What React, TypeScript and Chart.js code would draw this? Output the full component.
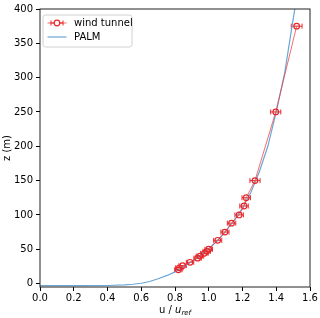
import React, { useEffect, useRef } from "react";
import { Chart, registerables } from "chart.js";

Chart.register(...registerables);

// Wind tunnel measurements
const windU = [0.82, 0.826, 0.845, 0.889, 0.934, 0.948, 0.974, 0.988, 1.0, 1.053, 1.096, 1.135, 1.18, 1.209, 1.222, 1.274, 1.397, 1.521];
const windZ = [20, 23, 26, 31, 37, 40, 44, 47, 50, 63, 75, 88, 100, 113, 125, 150, 250, 375];
const windErr = [0.022, 0.022, 0.022, 0.022, 0.022, 0.022, 0.022, 0.022, 0.022, 0.024, 0.024, 0.025, 0.025, 0.025, 0.025, 0.03, 0.03, 0.032];

// PALM profile
const palmU = [0.0, 0.2, 0.4, 0.5, 0.55, 0.6, 0.65, 0.7, 0.75, 0.8, 0.85, 0.9, 0.95, 1.0, 1.05, 1.1, 1.15, 1.2, 1.25, 1.3, 1.35, 1.4, 1.45, 1.5, 1.53];
const palmZ = [-3, -3, -2.8, -1.8, -1, 0.5, 3, 7, 11.5, 17, 24, 32, 41, 51, 62, 76, 92, 110, 133, 163, 200, 250, 307, 385, 430];

const xTicks = [0.0, 0.2, 0.4, 0.6, 0.8, 1.0, 1.2, 1.4, 1.6];
const yTicks = [0, 50, 100, 150, 200, 250, 300, 350, 400];

const seriesLabels = ["wind tunnel", "PALM"];
const xTitleMain = "u / ";
const xTitleVar = "u";
const xTitleSub = "ref";
const yTitle = "z (m)";

const RED = "#e8262a";
const RED_LINE = "rgba(240,60,60,0.75)";
const BLUE = "#6aa6d6";
const FONT = "DejaVu Sans";

export default function App() {
  const ref = useRef<HTMLCanvasElement | null>(null);

  useEffect(() => {
    document.body.style.margin = "0";
    const canvas = ref.current;
    if (!canvas) return;

    const errorBars = {
      id: "errorBars",
      beforeDatasetsDraw(chart: any) {
        const { ctx } = chart;
        const xs = chart.scales.x;
        const ys = chart.scales.y;
        ctx.save();
        ctx.strokeStyle = RED;
        ctx.lineWidth = 1;
        for (let i = 0; i < windU.length; i++) {
          const x1 = xs.getPixelForValue(windU[i] - windErr[i]);
          const x2 = xs.getPixelForValue(windU[i] + windErr[i]);
          const y = ys.getPixelForValue(windZ[i]);
          ctx.beginPath();
          ctx.moveTo(x1, y);
          ctx.lineTo(x2, y);
          ctx.moveTo(x1, y - 2.5);
          ctx.lineTo(x1, y + 2.5);
          ctx.moveTo(x2, y - 2.5);
          ctx.lineTo(x2, y + 2.5);
          ctx.stroke();
        }
        ctx.restore();
      },
    };

    const decorations = {
      id: "decorations",
      afterDraw(chart: any) {
        const { ctx, chartArea } = chart;
        const { left, right, top, bottom } = chartArea;
        ctx.save();
        // frame
        ctx.strokeStyle = "#222";
        ctx.lineWidth = 1;
        ctx.strokeRect(left, top, right - left, bottom - top);

        // y title
        ctx.fillStyle = "#000";
        ctx.font = `10px ${FONT}`;
        ctx.textAlign = "center";
        ctx.textBaseline = "middle";
        ctx.save();
        ctx.translate(7.5, (top + bottom) / 2);
        ctx.rotate(-Math.PI / 2);
        ctx.fillText(yTitle, 0, 0);
        ctx.restore();

        // x title with subscript
        const mainFont = `10px ${FONT}`;
        const varFont = `italic 10px ${FONT}`;
        const subFont = `italic 7px ${FONT}`;
        ctx.textAlign = "left";
        ctx.textBaseline = "alphabetic";
        ctx.font = mainFont;
        const w1 = ctx.measureText(xTitleMain).width;
        ctx.font = varFont;
        const w2 = ctx.measureText(xTitleVar).width;
        ctx.font = subFont;
        const w3 = ctx.measureText(xTitleSub).width;
        const total = w1 + w2 + w3;
        let x0 = (left + right) / 2 - total / 2;
        const base = 312.5;
        ctx.font = mainFont;
        ctx.fillText(xTitleMain, x0, base);
        x0 += w1;
        ctx.font = varFont;
        ctx.fillText(xTitleVar, x0, base);
        x0 += w2;
        ctx.font = subFont;
        ctx.fillText(xTitleSub, x0, base + 2.5);

        // legend
        const lx = left + 3, ly = top + 6, lw = 89, lh = 32, r = 2.5;
        ctx.beginPath();
        ctx.moveTo(lx + r, ly);
        ctx.lineTo(lx + lw - r, ly);
        ctx.quadraticCurveTo(lx + lw, ly, lx + lw, ly + r);
        ctx.lineTo(lx + lw, ly + lh - r);
        ctx.quadraticCurveTo(lx + lw, ly + lh, lx + lw - r, ly + lh);
        ctx.lineTo(lx + r, ly + lh);
        ctx.quadraticCurveTo(lx, ly + lh, lx, ly + lh - r);
        ctx.lineTo(lx, ly + r);
        ctx.quadraticCurveTo(lx, ly, lx + r, ly);
        ctx.closePath();
        ctx.fillStyle = "rgba(255,255,255,0.8)";
        ctx.fill();
        ctx.strokeStyle = "#d0d0d0";
        ctx.lineWidth = 1;
        ctx.stroke();

        const sx1 = lx + 4.5, sx2 = lx + 23.5, sc = (sx1 + sx2) / 2;
        const e1y = ly + 8, e2y = ly + 22;
        // wind tunnel entry
        ctx.strokeStyle = RED_LINE;
        ctx.beginPath();
        ctx.moveTo(sx1, e1y);
        ctx.lineTo(sx2, e1y);
        ctx.stroke();
        ctx.strokeStyle = RED;
        ctx.beginPath();
        ctx.moveTo(sc - 6, e1y);
        ctx.lineTo(sc + 6, e1y);
        ctx.moveTo(sc - 6, e1y - 2.5);
        ctx.lineTo(sc - 6, e1y + 2.5);
        ctx.moveTo(sc + 6, e1y - 2.5);
        ctx.lineTo(sc + 6, e1y + 2.5);
        ctx.stroke();
        ctx.beginPath();
        ctx.arc(sc, e1y, 2.8, 0, Math.PI * 2);
        ctx.fillStyle = "#fff";
        ctx.fill();
        ctx.lineWidth = 1.2;
        ctx.stroke();
        // PALM entry
        ctx.strokeStyle = BLUE;
        ctx.lineWidth = 1.2;
        ctx.beginPath();
        ctx.moveTo(sx1, e2y);
        ctx.lineTo(sx2, e2y);
        ctx.stroke();

        ctx.fillStyle = "#000";
        ctx.font = `10px ${FONT}`;
        ctx.textBaseline = "middle";
        ctx.textAlign = "left";
        ctx.fillText(seriesLabels[0], lx + 31, e1y);
        ctx.fillText(seriesLabels[1], lx + 31, e2y);
        ctx.restore();
      },
    };

    const tickFont = { family: FONT, size: 10 };

    const chart = new Chart(canvas, {
      type: "scatter",
      data: {
        datasets: [
          {
            label: seriesLabels[0],
            data: windU.map((u, i) => ({ x: u, y: windZ[i] })),
            showLine: true,
            borderColor: RED_LINE,
            borderWidth: 1,
            pointRadius: 2.8,
            pointBorderColor: RED,
            pointBorderWidth: 1.2,
            pointBackgroundColor: "rgba(255,255,255,0)",
            pointStyle: "circle",
          },
          {
            label: seriesLabels[1],
            data: palmU.map((u, i) => ({ x: u, y: palmZ[i] })),
            showLine: true,
            borderColor: BLUE,
            borderWidth: 1.2,
            pointRadius: 0,
          },
        ],
      },
      options: {
        animation: false,
        responsive: true,
        maintainAspectRatio: false,
        layout: { padding: { top: 5, right: 10, left: 0, bottom: 0 } },
        plugins: { legend: { display: false }, tooltip: { enabled: false } },
        scales: {
          x: {
            type: "linear",
            min: 0,
            max: 1.6,
            afterBuildTicks: (axis: any) => {
              axis.ticks = xTicks.map((v) => ({ value: v }));
            },
            afterFit: (s: any) => {
              s.height = 31;
            },
            ticks: {
              callback: (v: any) => Number(v).toFixed(1),
              font: tickFont,
              color: "#000",
              padding: 1,
              maxRotation: 0,
              autoSkip: false,
            },
            grid: { drawOnChartArea: false, drawTicks: true, tickLength: 4, tickColor: "#000" },
            border: { display: false },
          },
          y: {
            type: "linear",
            min: -5,
            max: 400,
            afterBuildTicks: (axis: any) => {
              axis.ticks = yTicks.map((v) => ({ value: v }));
            },
            afterFit: (s: any) => {
              s.width = 40;
            },
            ticks: {
              callback: (v: any) => String(v),
              font: tickFont,
              color: "#000",
              padding: 3,
              autoSkip: false,
            },
            grid: { drawOnChartArea: false, drawTicks: true, tickLength: 4, tickColor: "#000" },
            border: { display: false },
          },
        },
      },
      plugins: [errorBars, decorations],
    });

    return () => chart.destroy();
  }, []);

  return (
    <div style={{ width: 320, height: 318, position: "relative" }}>
      <canvas ref={ref} />
    </div>
  );
}
